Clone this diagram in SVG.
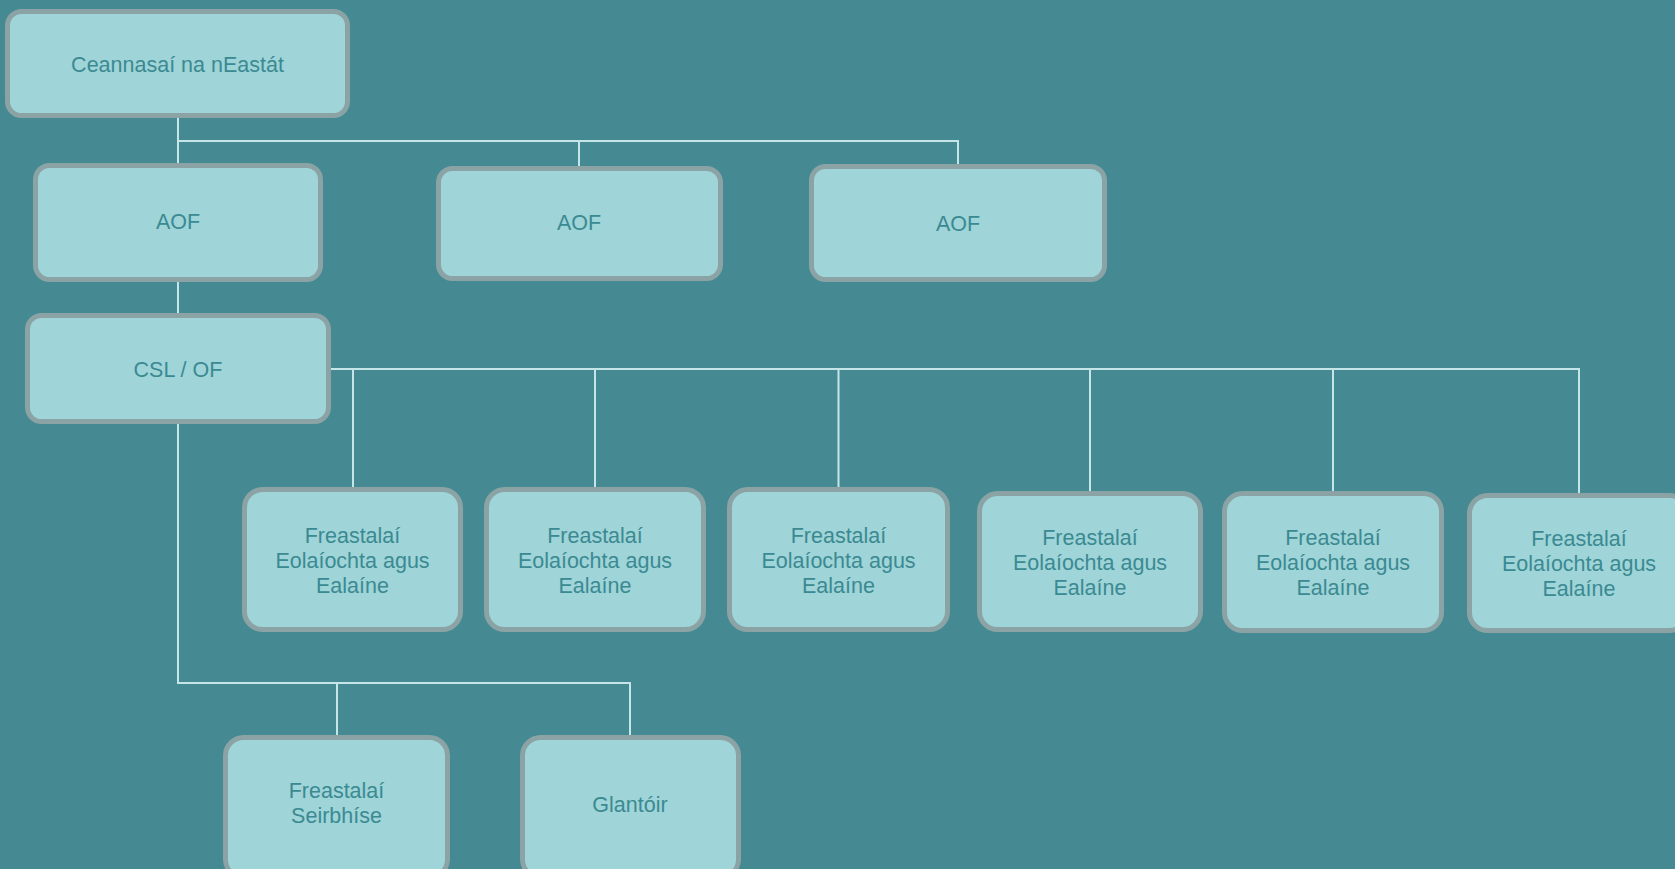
<svg xmlns="http://www.w3.org/2000/svg" width="1675" height="869" viewBox="0 0 1675 869">
<style>
.box{fill:#9fd4d8;stroke:#8ba3a5;stroke-width:5}
.t{font-family:"Liberation Sans",Arial,sans-serif;font-size:21.5px;fill:#3b8a92;text-anchor:middle}
.c{fill:none;stroke:#c6e5e8;stroke-width:2}
</style>
<rect width="1675" height="869" fill="#458992"/>
<g id="connectors" class="c">
<path d="M178 116 V165 M178 141 H958 V166 M579 141 V168"/>
<path d="M178 280 V315"/>
<path d="M329 369 H1579 V495 M353 369 V489 M595 369 V489 M838.5 369 V489 M1090 369 V493 M1333 369 V493"/>
<path d="M178 422 V683 H630 V737 M337 683 V737"/>
</g>
<g id="n-ceannasai"><rect class="box" x="7.5" y="11.5" width="340" height="104" rx="14"/><text class="t" x="177.5" y="72">Ceannasaí na nEastát</text></g>
<g id="n-aof1"><rect class="box" x="35.5" y="165.5" width="285" height="114" rx="14"/><text class="t" x="178" y="229">AOF</text></g>
<g id="n-aof2"><rect class="box" x="438.5" y="168.5" width="282" height="110" rx="14"/><text class="t" x="579" y="230">AOF</text></g>
<g id="n-aof3"><rect class="box" x="811.5" y="166.5" width="293" height="113" rx="14"/><text class="t" x="958" y="231">AOF</text></g>
<g id="n-csl"><rect class="box" x="27.5" y="315.5" width="301" height="106" rx="14"/><text class="t" x="178" y="377">CSL / OF</text></g>
<g id="n-fea1"><rect class="box" x="244.5" y="489.5" width="216" height="140" rx="18"/><text class="t" x="352.5" y="543">Freastalaí</text><text class="t" x="352.5" y="568">Eolaíochta agus</text><text class="t" x="352.5" y="593">Ealaíne</text></g>
<g id="n-fea2"><rect class="box" x="486.5" y="489.5" width="217" height="140" rx="18"/><text class="t" x="595" y="543">Freastalaí</text><text class="t" x="595" y="568">Eolaíochta agus</text><text class="t" x="595" y="593">Ealaíne</text></g>
<g id="n-fea3"><rect class="box" x="729.5" y="489.5" width="218" height="140" rx="18"/><text class="t" x="838.5" y="543">Freastalaí</text><text class="t" x="838.5" y="568">Eolaíochta agus</text><text class="t" x="838.5" y="593">Ealaíne</text></g>
<g id="n-fea4"><rect class="box" x="979.5" y="493.5" width="221" height="136" rx="18"/><text class="t" x="1090" y="545">Freastalaí</text><text class="t" x="1090" y="570">Eolaíochta agus</text><text class="t" x="1090" y="595">Ealaíne</text></g>
<g id="n-fea5"><rect class="box" x="1224.5" y="493.5" width="217" height="137" rx="18"/><text class="t" x="1333" y="545">Freastalaí</text><text class="t" x="1333" y="570">Eolaíochta agus</text><text class="t" x="1333" y="595">Ealaíne</text></g>
<g id="n-fea6"><rect class="box" x="1469.5" y="495.5" width="218" height="135" rx="18"/><text class="t" x="1579" y="546">Freastalaí</text><text class="t" x="1579" y="571">Eolaíochta agus</text><text class="t" x="1579" y="596">Ealaíne</text></g>
<g id="n-seirbhise"><rect class="box" x="225.5" y="737.5" width="222" height="140" rx="18"/><text class="t" x="336.5" y="798">Freastalaí</text><text class="t" x="336.5" y="823">Seirbhíse</text></g>
<g id="n-glantoir"><rect class="box" x="522.5" y="737.5" width="216" height="140" rx="18"/><text class="t" x="630" y="812">Glantóir</text></g>
</svg>
